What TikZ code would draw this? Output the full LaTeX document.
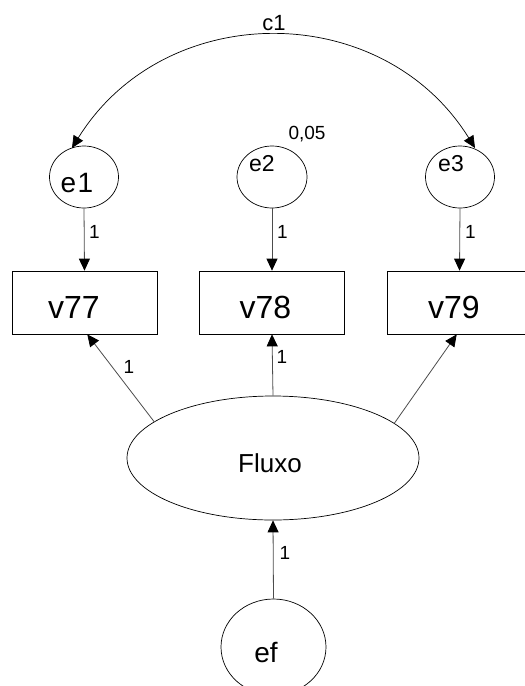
\documentclass[tikz,border=0pt]{standalone}
\usepackage{fontspec}
\setmainfont{Liberation Sans}
\usetikzlibrary{arrows.meta, shapes.geometric}
\newcommand{\fs}[1]{\fontsize{#1}{#1}\selectfont}
\tikzset{
  head/.tip={Triangle[length=12pt, width=11pt, color=black]},
  var/.style={draw, line width=0.7pt, ellipse, inner sep=0pt},
  obs/.style={draw, line width=0.7pt, rectangle, inner sep=0pt,
    minimum width=145pt, minimum height=63pt},
  path/.style={draw=black!70, line width=0.8pt, -head},
  txt/.style={inner sep=0pt, anchor=center},
  coef/.style={inner sep=0pt, font=\fs{19}}
}
\begin{document}
\begin{tikzpicture}[x=1pt, y=-1pt]
\clip (0,0) rectangle (525,686);
\useasboundingbox (0,0) rectangle (525,686);

% error terms
\node[var, minimum width=69pt, minimum height=62pt] (e1) at (84,177) {};
\node[var, minimum width=70pt, minimum height=62pt] (e2) at (272,177) {};
\node[var, minimum width=69pt, minimum height=62pt] (e3) at (460,177) {};
\node[txt, font=\fs{28}] (e1t) at (77,183) {e\kern1.5pt1};
\node[txt, font=\fs{23}] (e2t) at (262,164) {e2};
\node[txt, font=\fs{23}] (e3t) at (451,164) {e3};
\node[txt, font=\fs{19}] (var2) at (307,134) {0,05};

% observed variables
\node[obs] (v77) at (84.5,302.5) {};
\node[obs] (v78) at (272,302.5) {};
\node[obs] (v79) at (459.5,302.5) {};
\node[txt, font=\fs{32}] (v77t) at (74,307) {v77};
\node[txt, font=\fs{32}] (v78t) at (265.5,307) {v78};
\node[txt, font=\fs{32}] (v79t) at (454,307) {v79};

% latent factor and its disturbance
\node[var, minimum width=292pt, minimum height=124pt] (F) at (273,458) {};
\node[txt, font=\fs{26}] (Ft) at (270,463) {Fluxo};
\node[var, minimum width=105pt, minimum height=96pt] (ef) at (273.5,647) {};
\node[txt, font=\fs{28}] (eft) at (266,652) {ef};

% covariance between e1 and e3
\node[txt, font=\fs{22}] (c1) at (274,23) {c1};
\coordinate (a1) at (72,148);
\coordinate (a3) at (475,148);
\draw[line width=0.7pt, head-head]
  (a1) .. controls (164.7,-1.5) and (382.3,-1.5) .. (a3);

% error paths
\draw[path] (e1.south) -- (v77.north);
\draw[path] (e2.south) -- (v78.north);
\draw[path] (e3.south) -- (v79.north);
\node[coef, anchor=west] (l1) at (89,232) {1};
\node[coef, anchor=west] (l2) at (277,232) {1};
\node[coef, anchor=west] (l3) at (465,232) {1};

% loadings
\draw[path] (F.163.9) -- (v77.-85.5);
\draw[path] (F.north) -- (v78.south);
\draw[path] (F.16.4) -- (v79.-95);
\node[coef] (l4) at (129,367) {1};
\node[coef] (l5) at (282,357) {1};

% disturbance path
\draw[path] (ef.north) -- (F.south);
\node[coef] (l6) at (285,553) {1};
\end{tikzpicture}
\end{document}
